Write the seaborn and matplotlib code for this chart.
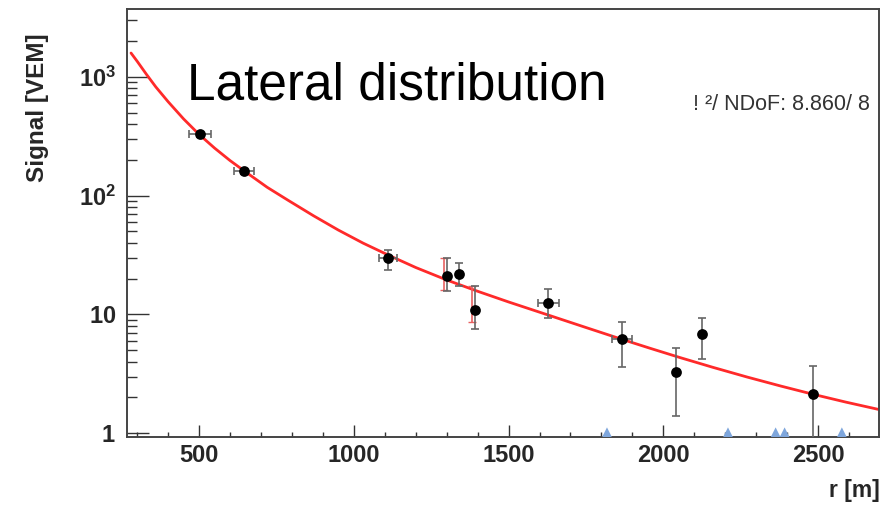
import numpy as np
import pandas as pd
import seaborn as sns
import matplotlib.pyplot as plt
from matplotlib.ticker import FixedLocator, FixedFormatter, NullFormatter

# station signals
r_m = [503, 645, 1111, 1301, 1340, 1392, 1628, 1867, 2041, 2125, 2484]
signal = [328, 160, 29.7, 20.9, 21.7, 11.0, 12.6, 6.2, 3.3, 6.9, 2.16]
sig_up = [345, 168, 34.7, 29.7, 26.9, 17.5, 16.3, 8.6, 5.2, 9.4, 3.7]
sig_lo = [312, 152, 23.5, 15.9, 17.5, 7.5, 9.4, 3.6, 1.41, 4.2, 0.5]
r_err = [35, 33, 30, 0, 0, 0, 34, 32, 0, 0, 0]

# second (red) error bars partly hidden behind the black ones
red_r = [1290, 1383]
red_signal = [21.0, 12.0]
red_up = [29.7, 17.5]
red_lo = [16.0, 8.6]

# silent stations
silent_r = [1818, 2209, 2363, 2392, 2577]
silent_signal = [1.01, 1.01, 1.01, 1.01, 1.01]

# fitted LDF (log10 of signal)
fit_r = [280, 300, 330, 360, 400, 450, 500, 550, 600, 650, 720, 788, 870, 950,
         1030, 1111, 1200, 1300, 1400, 1500, 1628, 1750, 1867, 1960, 2054,
         2160, 2271, 2380, 2484, 2590, 2700]
fit_log_s = [3.2, 3.13, 3.02, 2.915, 2.79, 2.645, 2.515, 2.40, 2.295, 2.20,
             2.07, 1.96, 1.83, 1.71, 1.60, 1.50, 1.395, 1.29, 1.195, 1.105,
             0.995, 0.89, 0.79, 0.713, 0.637, 0.555, 0.473, 0.397, 0.328,
             0.262, 0.198]

x_ticks = [500, 1000, 1500, 2000, 2500]
y_ticks = [1, 10, 100, 1000]
y_tick_labels = [r"$\mathbf{1}$", r"$\mathbf{10}$", r"$\mathbf{10^{2}}$", r"$\mathbf{10^{3}}$"]

sns.set_theme(style="white")
plt.rcParams['font.family'] = ['Liberation Sans', 'DejaVu Sans']
plt.rcParams['mathtext.fontset'] = 'custom'
plt.rcParams['mathtext.rm'] = 'Liberation Sans'
plt.rcParams['mathtext.bf'] = 'Liberation Sans:bold'

fit = pd.DataFrame({"r": fit_r, "S": 10 ** np.array(fit_log_s)})
pts = pd.DataFrame({"r": r_m, "S": signal})
silent = pd.DataFrame({"r": silent_r, "S": silent_signal})

fig = plt.figure(figsize=(8.89, 5.07), dpi=100)
ax = fig.add_axes([127 / 889, 1 - 437 / 507, 752 / 889, 428 / 507])

sns.lineplot(data=fit, x="r", y="S", color="#ff2a2a", lw=2, ax=ax, zorder=2)

ax.errorbar(red_r, red_signal,
            yerr=[np.array(red_signal) - np.array(red_lo), np.array(red_up) - np.array(red_signal)],
            fmt="none", ecolor="#e86060", elinewidth=1.2, capsize=3, zorder=2.5)

s = np.array(signal)
ax.errorbar(r_m, signal, yerr=[s - np.array(sig_lo), np.array(sig_up) - s], xerr=r_err,
            fmt="none", ecolor="#666666", elinewidth=1.2, capsize=3, capthick=1.2, zorder=3)

sns.scatterplot(data=pts, x="r", y="S", color="black", s=60, edgecolor="black",
                linewidth=0, ax=ax, zorder=4)
sns.scatterplot(data=silent, x="r", y="S", marker="^", color="#7ea6dc", s=60,
                edgecolor="none", ax=ax, zorder=4)

ax.set_yscale("log")
ax.set_xlim(267, 2697)
ax.set_ylim(0.93, 3720)

ax.xaxis.set_major_locator(FixedLocator(x_ticks))
ax.xaxis.set_minor_locator(FixedLocator(np.arange(300, 2700, 100)))
ax.yaxis.set_major_locator(FixedLocator(y_ticks))
ax.yaxis.set_major_formatter(FixedFormatter(y_tick_labels))
minor_y = [m * 10 ** d for d in range(0, 4) for m in range(2, 10)]
ax.yaxis.set_minor_locator(FixedLocator(minor_y))
ax.yaxis.set_minor_formatter(NullFormatter())

ax.tick_params(which="both", bottom=True, left=True, top=False, right=False)
ax.tick_params(axis="x", which="major", direction="in", length=8.5, width=1, color="#333333",
               labelsize=17, pad=5)
ax.tick_params(axis="x", which="minor", direction="in", length=3.6, width=1, color="#333333")
ax.tick_params(axis="y", which="major", direction="in", length=16, width=1, color="#333333",
               labelsize=17, pad=8)
ax.tick_params(axis="y", which="minor", direction="in", length=7, width=1, color="#333333")
for lab in ax.get_xticklabels() + ax.get_yticklabels():
    lab.set_fontweight("bold")

for sp in ax.spines.values():
    sp.set_color("#444444")
    sp.set_linewidth(1.4)

ax.set_xlabel("")
ax.set_ylabel("")
fig.text(38 / 889, 1 - 108 / 507, "Signal [VEM]", rotation=90, ha="center", va="center",
         fontsize=17.5, fontweight="bold")
fig.text(880 / 889, 1 - 490 / 507, "r [m]", ha="right", va="center",
         fontsize=16.5, fontweight="bold")

fig.text(187 / 889, 1 - 100 / 507, "Lateral distribution", ha="left", va="baseline",
         fontsize=37, color="black")
fig.text(870 / 889, 1 - 110 / 507, "! ²/ NDoF: 8.860/ 8", ha="right", va="baseline",
         fontsize=15.5, color="#333333")

fig.savefig("out.png", dpi=100)
